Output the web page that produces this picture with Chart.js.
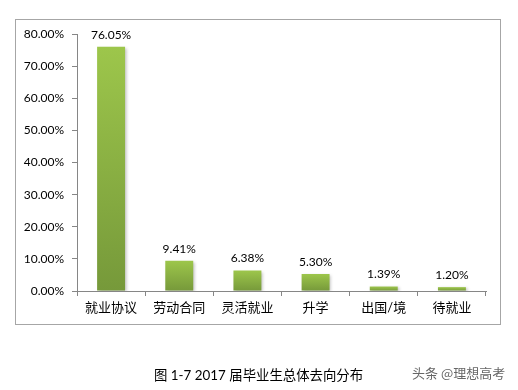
<!DOCTYPE html>
<html>
<head>
<meta charset="utf-8">
<script src="https://cdn.jsdelivr.net/npm/chart.js@4"></script>
<style>
    body { margin: 0; background: #fff; }
    #wrap { position: relative; width: 518px; height: 390px; }
    #caption { position: absolute; left: 154px; top: 364px; font: 13.4px Lato, "Noto Sans CJK SC", sans-serif; color: #000; white-space: nowrap; }
    #mark { position: absolute; left: 412px; top: 363px; font: 13px "Noto Sans CJK SC", sans-serif; color: #666; white-space: nowrap; }
</style>
</head>
<body>
<div id="wrap">
    <canvas id="chart" width="518" height="390"></canvas>
    <div id="caption">图 1-7 2017 届毕业生总体去向分布</div>
    <div id="mark">头条 @理想高考</div>
</div>
<script>
const categories = ['就业协议', '劳动合同', '灵活就业', '升学', '出国/境', '待就业'];
const shares = [76.05, 9.41, 6.38, 5.30, 1.39, 1.20];
const yTicks = [0, 10, 20, 30, 40, 50, 60, 70, 80];

const FONT = 'Lato, "Noto Sans CJK SC", sans-serif';

// frame around the whole chart, like the Excel chart border
const framePlugin = {
    id: 'frame',
    beforeDraw: (chart) => {
        const ctx = chart.ctx;
        ctx.save();
        ctx.strokeStyle = '#a6a6a6';
        ctx.lineWidth = 1;
        ctx.strokeRect(15.5, 19.5, 485, 305);
        ctx.restore();
    }
};

// soft shadow under the bars
const barShadow = {
    id: 'barShadow',
    beforeDatasetsDraw: (chart) => {
        chart.ctx.save();
        chart.ctx.shadowColor = 'rgba(0,0,0,0.25)';
        chart.ctx.shadowBlur = 3;
        chart.ctx.shadowOffsetX = 1.5;
        chart.ctx.shadowOffsetY = 1;
    },
    afterDatasetsDraw: (chart) => {
        chart.ctx.restore();
    }
};

// value labels on top of each bar
const valueLabels = {
    id: 'valueLabels',
    afterDatasetsDraw: (chart) => {
        const ctx = chart.ctx;
        const meta = chart.getDatasetMeta(0);
        ctx.save();
        ctx.font = '12px ' + FONT;
        ctx.fillStyle = '#000';
        ctx.textAlign = 'center';
        ctx.textBaseline = 'bottom';
        meta.data.forEach((bar, i) => {
            ctx.fillText(shares[i].toFixed(2) + '%', bar.x, bar.y - 6);
        });
        ctx.restore();
    }
};

const barFill = (context) => {
    const chart = context.chart;
    const y = chart.scales.y;
    if (!y || !context.parsed) return '#8db443';
    const top = y.getPixelForValue(context.parsed.y);
    const base = y.getPixelForValue(0);
    if (!isFinite(top) || !isFinite(base)) return '#8db443';
    const g = chart.ctx.createLinearGradient(0, top, 0, base);
    g.addColorStop(0, '#9dc64b');
    g.addColorStop(1, '#76993a');
    return g;
};

new Chart(document.getElementById('chart'), {
    type: 'bar',
    data: {
        labels: categories,
        datasets: [{
            data: shares,
            backgroundColor: barFill,
            borderWidth: 0,
            barPercentage: 0.41,
            categoryPercentage: 1
        }]
    },
    options: {
        responsive: false,
        animation: false,
        layout: { padding: { left: 15, top: 34, right: 32, bottom: 66 } },
        plugins: { legend: { display: false }, tooltip: { enabled: false } },
        scales: {
            x: {
                grid: { drawOnChartArea: false, drawTicks: true, tickLength: 5, color: '#868686', offset: true },
                border: { color: '#868686' },
                ticks: { color: '#000', font: { size: 13, family: FONT }, padding: 4, maxRotation: 0 },
                afterFit: (scale) => { scale.height = 33; }
            },
            y: {
                min: 0,
                max: 80,
                afterBuildTicks: (scale) => { scale.ticks = yTicks.map(v => ({ value: v })); },
                grid: { drawOnChartArea: false, drawTicks: true, tickLength: 5, color: '#868686' },
                border: { color: '#868686' },
                ticks: {
                    color: '#000',
                    font: { size: 12, family: FONT },
                    padding: 8,
                    callback: (v) => v.toFixed(2) + '%'
                },
                afterFit: (scale) => { scale.width = 62; }
            }
        }
    },
    plugins: [framePlugin, barShadow, valueLabels]
});
</script>
</body>
</html>
